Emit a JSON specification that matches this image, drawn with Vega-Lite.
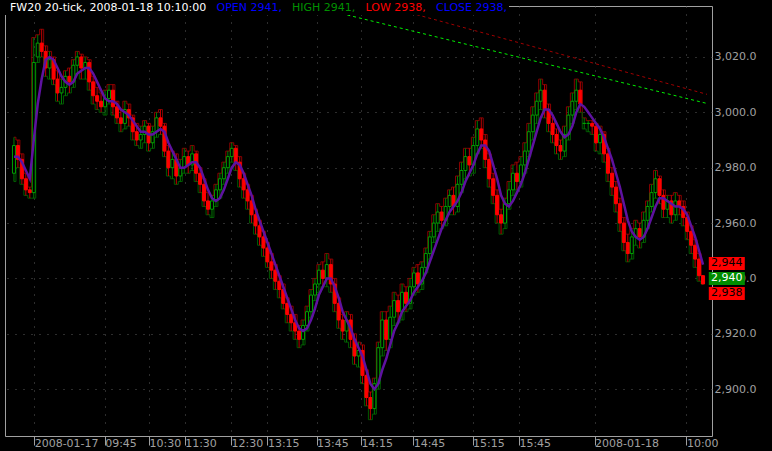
{
  "$schema": "https://vega.github.io/schema/vega-lite/v6.json",
  "width": 707,
  "height": 430,
  "autosize": {"type": "none"},
  "padding": {"left": 5, "top": 6, "right": 60, "bottom": 15},
  "background": "#000000",
  "config": {
    "view": {"stroke": "#a0a0a0", "strokeWidth": 1},
    "font": "DejaVu Sans"
  },
  "datasets": {
    "hdr": [
      {"item": "FW20 20-tick, 2008-01-18 10:10:00"},
      {"item": "OPEN 2941,"},
      {"item": "HIGH 2941,"},
      {"item": "LOW 2938,"},
      {"item": "CLOSE 2938,"}
    ],
    "bars": [
      {"i":1,"o":2978,"h":2991,"l":2975,"c":2988,"m":2984},
      {"i":2,"o":2988,"h":2990,"l":2980,"c":2983,"m":2984},
      {"i":3,"o":2983,"h":2985,"l":2974,"c":2976,"m":2982},
      {"i":4,"o":2976,"h":2978,"l":2970,"c":2972,"m":2979},
      {"i":5,"o":2972,"h":2973,"l":2969,"c":2971,"m":2976},
      {"i":6,"o":2971,"h":3027,"l":2969,"c":3018,"m":2990},
      {"i":7,"o":3020,"h":3028,"l":3018,"c":3025,"m":3003},
      {"i":8,"o":3025,"h":3030,"l":3020,"c":3022,"m":3012},
      {"i":9,"o":3022,"h":3024,"l":3013,"c":3016,"m":3019},
      {"i":10,"o":3016,"h":3022,"l":3012,"c":3019,"m":3020},
      {"i":11,"o":3019,"h":3020,"l":3010,"c":3012,"m":3019},
      {"i":12,"o":3012,"h":3015,"l":3004,"c":3007,"m":3016},
      {"i":13,"o":3007,"h":3012,"l":3003,"c":3009,"m":3013},
      {"i":14,"o":3009,"h":3015,"l":3006,"c":3013,"m":3011},
      {"i":15,"o":3013,"h":3016,"l":3007,"c":3011,"m":3010},
      {"i":16,"o":3011,"h":3019,"l":3009,"c":3017,"m":3011},
      {"i":17,"o":3017,"h":3022,"l":3014,"c":3020,"m":3014},
      {"i":18,"o":3020,"h":3021,"l":3012,"c":3016,"m":3015},
      {"i":19,"o":3016,"h":3020,"l":3012,"c":3018,"m":3016},
      {"i":20,"o":3018,"h":3019,"l":3008,"c":3011,"m":3016},
      {"i":21,"o":3011,"h":3013,"l":3003,"c":3006,"m":3014},
      {"i":22,"o":3006,"h":3009,"l":3001,"c":3004,"m":3011},
      {"i":23,"o":3004,"h":3007,"l":3000,"c":3002,"m":3008},
      {"i":24,"o":3002,"h":3008,"l":2999,"c":3005,"m":3005},
      {"i":25,"o":3005,"h":3010,"l":3003,"c":3008,"m":3004},
      {"i":26,"o":3008,"h":3010,"l":2999,"c":3002,"m":3004},
      {"i":27,"o":3002,"h":3004,"l":2996,"c":2998,"m":3003},
      {"i":28,"o":2998,"h":3001,"l":2993,"c":2996,"m":3001},
      {"i":29,"o":2996,"h":3004,"l":2994,"c":3001,"m":3000},
      {"i":30,"o":3001,"h":3003,"l":2995,"c":2998,"m":2999},
      {"i":31,"o":2998,"h":2999,"l":2990,"c":2993,"m":2997},
      {"i":32,"o":2993,"h":2996,"l":2988,"c":2990,"m":2995},
      {"i":33,"o":2990,"h":2995,"l":2987,"c":2992,"m":2993},
      {"i":34,"o":2992,"h":2997,"l":2989,"c":2995,"m":2993},
      {"i":35,"o":2995,"h":2996,"l":2986,"c":2989,"m":2992},
      {"i":36,"o":2989,"h":2995,"l":2987,"c":2993,"m":2992},
      {"i":37,"o":2993,"h":3000,"l":2991,"c":2998,"m":2993},
      {"i":38,"o":2998,"h":3001,"l":2992,"c":2995,"m":2994},
      {"i":39,"o":2995,"h":2996,"l":2984,"c":2986,"m":2993},
      {"i":40,"o":2986,"h":2988,"l":2977,"c":2980,"m":2989},
      {"i":41,"o":2980,"h":2986,"l":2976,"c":2983,"m":2986},
      {"i":42,"o":2983,"h":2985,"l":2974,"c":2977,"m":2983},
      {"i":43,"o":2977,"h":2983,"l":2975,"c":2980,"m":2980},
      {"i":44,"o":2980,"h":2987,"l":2978,"c":2984,"m":2980},
      {"i":45,"o":2984,"h":2986,"l":2978,"c":2981,"m":2981},
      {"i":46,"o":2981,"h":2988,"l":2979,"c":2985,"m":2982},
      {"i":47,"o":2985,"h":2986,"l":2975,"c":2978,"m":2982},
      {"i":48,"o":2978,"h":2980,"l":2971,"c":2974,"m":2980},
      {"i":49,"o":2974,"h":2976,"l":2966,"c":2968,"m":2976},
      {"i":50,"o":2968,"h":2971,"l":2963,"c":2965,"m":2972},
      {"i":51,"o":2965,"h":2970,"l":2962,"c":2968,"m":2969},
      {"i":52,"o":2968,"h":2974,"l":2966,"c":2972,"m":2968},
      {"i":53,"o":2972,"h":2978,"l":2969,"c":2976,"m":2969},
      {"i":54,"o":2976,"h":2982,"l":2974,"c":2980,"m":2972},
      {"i":55,"o":2980,"h":2986,"l":2978,"c":2984,"m":2976},
      {"i":56,"o":2984,"h":2989,"l":2982,"c":2987,"m":2980},
      {"i":57,"o":2987,"h":2988,"l":2979,"c":2982,"m":2982},
      {"i":58,"o":2982,"h":2984,"l":2973,"c":2976,"m":2981},
      {"i":59,"o":2976,"h":2978,"l":2969,"c":2972,"m":2978},
      {"i":60,"o":2972,"h":2974,"l":2965,"c":2968,"m":2974},
      {"i":61,"o":2968,"h":2970,"l":2960,"c":2963,"m":2970},
      {"i":62,"o":2963,"h":2965,"l":2956,"c":2959,"m":2965},
      {"i":63,"o":2959,"h":2961,"l":2952,"c":2955,"m":2961},
      {"i":64,"o":2955,"h":2957,"l":2948,"c":2951,"m":2957},
      {"i":65,"o":2951,"h":2953,"l":2944,"c":2946,"m":2953},
      {"i":66,"o":2946,"h":2949,"l":2940,"c":2943,"m":2949},
      {"i":67,"o":2943,"h":2945,"l":2936,"c":2939,"m":2945},
      {"i":68,"o":2939,"h":2941,"l":2933,"c":2936,"m":2941},
      {"i":69,"o":2936,"h":2938,"l":2929,"c":2931,"m":2937},
      {"i":70,"o":2931,"h":2933,"l":2924,"c":2927,"m":2933},
      {"i":71,"o":2927,"h":2930,"l":2921,"c":2924,"m":2929},
      {"i":72,"o":2924,"h":2927,"l":2918,"c":2921,"m":2925},
      {"i":73,"o":2921,"h":2923,"l":2915,"c":2918,"m":2922},
      {"i":74,"o":2918,"h":2925,"l":2916,"c":2923,"m":2921},
      {"i":75,"o":2923,"h":2930,"l":2921,"c":2928,"m":2922},
      {"i":76,"o":2928,"h":2936,"l":2926,"c":2934,"m":2925},
      {"i":77,"o":2934,"h":2940,"l":2932,"c":2938,"m":2929},
      {"i":78,"o":2938,"h":2945,"l":2935,"c":2943,"m":2934},
      {"i":79,"o":2943,"h":2946,"l":2937,"c":2940,"m":2937},
      {"i":80,"o":2940,"h":2949,"l":2937,"c":2945,"m":2940},
      {"i":81,"o":2945,"h":2947,"l":2935,"c":2938,"m":2940},
      {"i":82,"o":2938,"h":2940,"l":2928,"c":2931,"m":2937},
      {"i":83,"o":2931,"h":2933,"l":2922,"c":2925,"m":2933},
      {"i":84,"o":2925,"h":2927,"l":2918,"c":2921,"m":2928},
      {"i":85,"o":2921,"h":2928,"l":2917,"c":2925,"m":2925},
      {"i":86,"o":2925,"h":2927,"l":2915,"c":2918,"m":2922},
      {"i":87,"o":2918,"h":2920,"l":2909,"c":2912,"m":2918},
      {"i":88,"o":2912,"h":2917,"l":2908,"c":2914,"m":2915},
      {"i":89,"o":2914,"h":2916,"l":2902,"c":2905,"m":2912},
      {"i":90,"o":2905,"h":2907,"l":2894,"c":2897,"m":2907},
      {"i":91,"o":2897,"h":2899,"l":2889,"c":2893,"m":2902},
      {"i":92,"o":2893,"h":2904,"l":2891,"c":2902,"m":2900},
      {"i":93,"o":2902,"h":2917,"l":2900,"c":2915,"m":2902},
      {"i":94,"o":2915,"h":2928,"l":2912,"c":2925,"m":2907},
      {"i":95,"o":2925,"h":2928,"l":2914,"c":2918,"m":2911},
      {"i":96,"o":2918,"h":2930,"l":2915,"c":2926,"m":2916},
      {"i":97,"o":2926,"h":2935,"l":2923,"c":2932,"m":2921},
      {"i":98,"o":2932,"h":2934,"l":2924,"c":2928,"m":2924},
      {"i":99,"o":2928,"h":2938,"l":2925,"c":2935,"m":2928},
      {"i":100,"o":2935,"h":2937,"l":2928,"c":2931,"m":2930},
      {"i":101,"o":2931,"h":2940,"l":2929,"c":2937,"m":2932},
      {"i":102,"o":2937,"h":2944,"l":2934,"c":2942,"m":2935},
      {"i":103,"o":2942,"h":2945,"l":2935,"c":2938,"m":2937},
      {"i":104,"o":2938,"h":2946,"l":2936,"c":2944,"m":2939},
      {"i":105,"o":2944,"h":2951,"l":2942,"c":2949,"m":2942},
      {"i":106,"o":2949,"h":2957,"l":2947,"c":2955,"m":2946},
      {"i":107,"o":2955,"h":2963,"l":2953,"c":2960,"m":2950},
      {"i":108,"o":2960,"h":2967,"l":2957,"c":2964,"m":2954},
      {"i":109,"o":2964,"h":2966,"l":2958,"c":2961,"m":2958},
      {"i":110,"o":2961,"h":2969,"l":2959,"c":2966,"m":2961},
      {"i":111,"o":2966,"h":2972,"l":2963,"c":2970,"m":2964},
      {"i":112,"o":2970,"h":2973,"l":2963,"c":2966,"m":2966},
      {"i":113,"o":2966,"h":2977,"l":2964,"c":2974,"m":2968},
      {"i":114,"o":2974,"h":2982,"l":2971,"c":2979,"m":2971},
      {"i":115,"o":2979,"h":2987,"l":2976,"c":2984,"m":2975},
      {"i":116,"o":2984,"h":2987,"l":2977,"c":2981,"m":2978},
      {"i":117,"o":2981,"h":2991,"l":2978,"c":2988,"m":2981},
      {"i":118,"o":2988,"h":2997,"l":2985,"c":2994,"m":2985},
      {"i":119,"o":2994,"h":2998,"l":2987,"c":2990,"m":2988},
      {"i":120,"o":2990,"h":2992,"l":2980,"c":2983,"m":2988},
      {"i":121,"o":2983,"h":2985,"l":2973,"c":2976,"m":2986},
      {"i":122,"o":2976,"h":2978,"l":2967,"c":2970,"m":2981},
      {"i":123,"o":2970,"h":2972,"l":2960,"c":2963,"m":2976},
      {"i":124,"o":2963,"h":2965,"l":2956,"c":2960,"m":2970},
      {"i":125,"o":2960,"h":2969,"l":2958,"c":2967,"m":2967},
      {"i":126,"o":2967,"h":2975,"l":2965,"c":2972,"m":2966},
      {"i":127,"o":2972,"h":2981,"l":2970,"c":2978,"m":2968},
      {"i":128,"o":2978,"h":2982,"l":2972,"c":2975,"m":2971},
      {"i":129,"o":2975,"h":2984,"l":2973,"c":2981,"m":2974},
      {"i":130,"o":2981,"h":2989,"l":2978,"c":2986,"m":2978},
      {"i":131,"o":2986,"h":2996,"l":2984,"c":2993,"m":2983},
      {"i":132,"o":2993,"h":3002,"l":2990,"c":2999,"m":2988},
      {"i":133,"o":2999,"h":3007,"l":2996,"c":3004,"m":2993},
      {"i":134,"o":3004,"h":3012,"l":3001,"c":3008,"m":2998},
      {"i":135,"o":3008,"h":3010,"l":2998,"c":3001,"m":3001},
      {"i":136,"o":3001,"h":3003,"l":2993,"c":2996,"m":3001},
      {"i":137,"o":2996,"h":2998,"l":2989,"c":2992,"m":2999},
      {"i":138,"o":2992,"h":2994,"l":2985,"c":2988,"m":2996},
      {"i":139,"o":2988,"h":2990,"l":2983,"c":2986,"m":2993},
      {"i":140,"o":2986,"h":2995,"l":2984,"c":2992,"m":2991},
      {"i":141,"o":2992,"h":3002,"l":2990,"c":2999,"m":2992},
      {"i":142,"o":2999,"h":3007,"l":2996,"c":3004,"m":2995},
      {"i":143,"o":3004,"h":3012,"l":3001,"c":3008,"m":3000},
      {"i":144,"o":3008,"h":3011,"l":3000,"c":3003,"m":3003},
      {"i":145,"o":2996,"h":2998,"l":2994,"c":2996,"m":3002},
      {"i":146,"o":2996,"h":2997,"l":2993,"c":2996,"m":3000},
      {"i":147,"o":2996,"h":2997,"l":2992,"c":2995,"m":2998},
      {"i":148,"o":2995,"h":2996,"l":2986,"c":2989,"m":2996},
      {"i":149,"o":2989,"h":2995,"l":2985,"c":2992,"m":2994},
      {"i":150,"o":2992,"h":2993,"l":2982,"c":2985,"m":2991},
      {"i":151,"o":2985,"h":2987,"l":2975,"c":2978,"m":2987},
      {"i":152,"o":2978,"h":2980,"l":2970,"c":2973,"m":2983},
      {"i":153,"o":2973,"h":2975,"l":2964,"c":2967,"m":2978},
      {"i":154,"o":2967,"h":2969,"l":2957,"c":2960,"m":2973},
      {"i":155,"o":2960,"h":2962,"l":2950,"c":2953,"m":2967},
      {"i":156,"o":2953,"h":2956,"l":2946,"c":2949,"m":2961},
      {"i":157,"o":2949,"h":2958,"l":2947,"c":2955,"m":2957},
      {"i":158,"o":2955,"h":2961,"l":2952,"c":2958,"m":2955},
      {"i":159,"o":2958,"h":2960,"l":2951,"c":2955,"m":2954},
      {"i":160,"o":2955,"h":2964,"l":2953,"c":2961,"m":2955},
      {"i":161,"o":2961,"h":2968,"l":2958,"c":2966,"m":2958},
      {"i":162,"o":2966,"h":2974,"l":2964,"c":2971,"m":2962},
      {"i":163,"o":2971,"h":2979,"l":2969,"c":2976,"m":2966},
      {"i":164,"o":2976,"h":2977,"l":2967,"c":2970,"m":2969},
      {"i":165,"o":2970,"h":2972,"l":2962,"c":2965,"m":2969},
      {"i":166,"o":2965,"h":2970,"l":2962,"c":2968,"m":2968},
      {"i":167,"o":2968,"h":2970,"l":2960,"c":2963,"m":2967},
      {"i":168,"o":2963,"h":2971,"l":2961,"c":2968,"m":2966},
      {"i":169,"o":2968,"h":2970,"l":2963,"c":2966,"m":2966},
      {"i":170,"o":2966,"h":2968,"l":2959,"c":2962,"m":2965},
      {"i":171,"o":2962,"h":2964,"l":2954,"c":2957,"m":2963},
      {"i":172,"o":2957,"h":2959,"l":2949,"c":2952,"m":2959},
      {"i":173,"o":2952,"h":2954,"l":2944,"c":2947,"m":2955},
      {"i":174,"o":2947,"h":2949,"l":2939,"c":2941,"m":2950},
      {"i":175,"o":2941,"h":2941,"l":2938,"c":2938,"m":2945}
    ],
    "trend": [
      {"t": "g", "i": 73.4, "v": 3039.3},
      {"t": "g", "i": 176, "v": 3003.2},
      {"t": "r", "i": 98.3, "v": 3037.0},
      {"t": "r", "i": 176, "v": 3006.5}
    ],
    "tags": [
      {"label": "2,944", "v": 2944, "k": "hi"},
      {"label": "2,940", "v": 2940, "k": "ma"},
      {"label": "2,938", "v": 2938, "k": "cl"}
    ]
  },
  "layer": [
    {
      "data": {"name": "bars"},
      "mark": {"type": "line", "color": "#8a0000", "strokeWidth": 1, "interpolate": "step"},
      "encoding": {
        "x": {
          "field": "i", "type": "quantitative",
          "scale": {"domain": [0, 176], "nice": false, "zero": false},
          "axis": {
            "orient": "bottom", "title": null, "domain": false,
            "values": [6.1, 23.9, 35.1, 44.1, 55.8, 65, 77.4, 88.6, 101.8, 116.8, 128.5, 147.6, 170.8],
            "labelExpr": "['2008-01-17','09:45','10:30','11:30','12:30','13:15','13:45','14:15','14:45','15:15','15:45','2008-01-18','10:00'][indexof([6.1, 23.9, 35.1, 44.1, 55.8, 65, 77.4, 88.6, 101.8, 116.8, 128.5, 147.6, 170.8], datum.value)]",
            "labelAlign": "left", "labelBaseline": "top", "labelPadding": -8, "labelDx": 0,
            "tickSize": 9, "tickColor": "#a0a0a0", "tickWidth": 1,
            "labelColor": "#a0a0a0", "labelFont": "DejaVu Sans", "labelFontSize": 11,
            "labelOverlap": false, "labelFlush": false, "labelBound": false,
            "grid": true, "gridColor": "#5a5a5a", "gridDash": [1, 7], "gridWidth": 1
          }
        },
        "y": {
          "field": "h", "type": "quantitative",
          "scale": {"domain": [2883.1, 3038.4], "nice": false, "zero": false},
          "axis": {
            "orient": "right", "title": null, "domain": false, "ticks": false,
            "values": [2900, 2920, 2940, 2960, 2980, 3000, 3020],
            "format": ",.1f", "labelPadding": 2, "labelAlign": "left", "labelBaseline": "middle",
            "labelColor": "#a0a0a0", "labelFont": "DejaVu Sans", "labelFontSize": 11,
            "labelOverlap": false, "labelBound": false,
            "grid": true, "gridColor": "#5a5a5a", "gridDash": [1, 7], "gridWidth": 1
          }
        }
      }
    },
    {
      "data": {"name": "bars"},
      "mark": {"type": "line", "color": "#005a00", "strokeWidth": 1, "interpolate": "step"},
      "encoding": {
        "x": {"field": "i", "type": "quantitative"},
        "y": {"field": "l", "type": "quantitative"}
      }
    },
    {
      "data": {"name": "bars"},
      "mark": {"type": "rule", "strokeWidth": 1},
      "encoding": {
        "x": {"field": "i", "type": "quantitative"},
        "y": {"field": "l", "type": "quantitative"},
        "y2": {"field": "h"},
        "color": {
          "condition": {"test": "datum.c < datum.o", "value": "#c00000"},
          "value": "#007a00"
        }
      }
    },
    {
      "data": {"name": "bars"},
      "mark": {"type": "bar", "width": 3, "strokeWidth": 1},
      "encoding": {
        "x": {"field": "i", "type": "quantitative"},
        "y": {"field": "o", "type": "quantitative"},
        "y2": {"field": "c"},
        "fill": {
          "condition": {"test": "datum.c < datum.o", "value": "#ff0000"},
          "value": "#000000"
        },
        "stroke": {
          "condition": {"test": "datum.c < datum.o", "value": "#ff0000"},
          "value": "#00a000"
        }
      }
    },
    {
      "data": {"name": "bars"},
      "mark": {"type": "line", "color": "#5e12a0", "strokeWidth": 2.5},
      "encoding": {
        "x": {"field": "i", "type": "quantitative"},
        "y": {"field": "m", "type": "quantitative"}
      }
    },
    {
      "data": {"name": "trend"},
      "mark": {"type": "line", "strokeWidth": 1, "strokeDash": [3, 3]},
      "encoding": {
        "x": {"field": "i", "type": "quantitative"},
        "y": {"field": "v", "type": "quantitative"},
        "detail": {"field": "t"},
        "stroke": {
          "condition": {"test": "datum.t == 'g'", "value": "#00ee00"},
          "value": "#a00000"
        }
      }
    },
    {
      "data": {"name": "tags"},
      "mark": {
        "type": "point", "filled": true, "opacity": 1, "strokeWidth": 0,
        "shape": "M-1,-0.361L1,-0.361L1,0.361L-1,0.361Z", "size": 1296,
        "yOffset": {"expr": "datum.k == 'hi' ? -4 : datum.k == 'cl' ? 9.5 : 0"}
      },
      "encoding": {
        "x": {"datum": 181, "type": "quantitative"},
        "y": {"field": "v", "type": "quantitative"},
        "fill": {
          "condition": {"test": "datum.k == 'ma'", "value": "#008c00"},
          "value": "#ff0000"
        }
      }
    },
    {
      "data": {"name": "tags"},
      "mark": {
        "type": "text", "font": "DejaVu Sans", "fontSize": 11, "align": "center", "baseline": "middle",
        "yOffset": {"expr": "datum.k == 'hi' ? -4 : datum.k == 'cl' ? 9.5 : 0"}
      },
      "encoding": {
        "x": {"datum": 181, "type": "quantitative"},
        "y": {"field": "v", "type": "quantitative"},
        "text": {"field": "label"},
        "fill": {
          "condition": {"test": "datum.k == 'ma'", "value": "#ffffff"},
          "value": "#000000"
        }
      }
    },
    {
      "data": {"name": "hdr"},
      "mark": {"type": "point", "opacity": 0},
      "encoding": {
        "color": {
          "field": "item", "type": "nominal",
          "scale": {
            "domain": ["FW20 20-tick, 2008-01-18 10:10:00", "OPEN 2941,", "HIGH 2941,", "LOW 2938,", "CLOSE 2938,"],
            "range": ["#ffffff", "#0000ff", "#009000", "#ff0000", "#0000ff"]
          },
          "legend": {
            "orient": "none", "legendX": -8, "legendY": -6, "direction": "horizontal", "columns": 5,
            "gridAlign": "none",
            "title": null, "symbolSize": 1, "symbolOpacity": 0, "symbolStrokeWidth": 0,
            "labelOffset": 0, "columnPadding": -1.5, "labelFont": "DejaVu Sans", "labelFontSize": 11,
            "labelLimit": 400, "fillColor": "#000000", "padding": 2,
            "labelColor": {"expr": "datum.label == 'FW20 20-tick, 2008-01-18 10:10:00' ? '#ffffff' : datum.label == 'HIGH 2941,' ? '#009000' : datum.label == 'LOW 2938,' ? '#ff0000' : '#0000ff'"}
          }
        }
      }
    }
  ]
}
